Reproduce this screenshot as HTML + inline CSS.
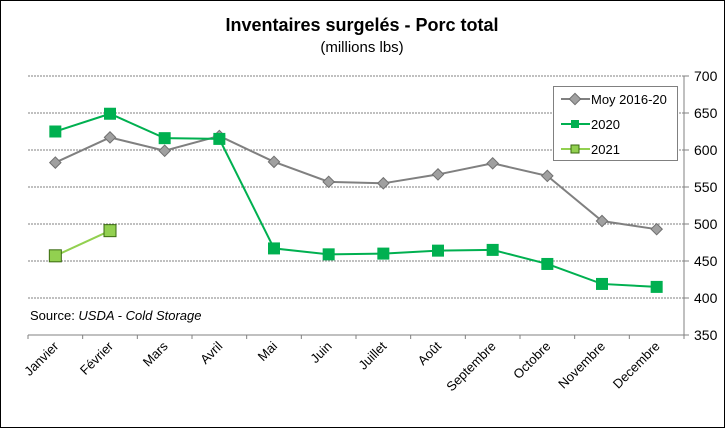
<!DOCTYPE html>
<html><head><meta charset="utf-8"><style>
body{margin:0;background:#fff;font-family:"Liberation Sans",sans-serif}
</style></head><body>
<svg width="725" height="428" xmlns="http://www.w3.org/2000/svg">
<rect x="0.5" y="0.5" width="724" height="427" fill="#fff" stroke="#000"/>
<text x="362" y="31" text-anchor="middle" font-size="18" font-weight="bold">Inventaires surgelés - Porc total</text>
<text x="362" y="52" text-anchor="middle" font-size="15">(millions lbs)</text>
<g id="grid"></g><g id="axis"></g><g id="series"></g>
<text x="30" y="320" font-size="13">Source: <tspan font-style="italic">USDA - Cold Storage</tspan></text>
<g>
<rect x="553.5" y="86.5" width="124" height="74" fill="#fff" stroke="#808080"/>
<line x1="561" x2="590" y1="99" y2="99" stroke="#808080" stroke-width="2"/>
<rect x="571" y="95" width="8" height="8" fill="#a0a0a0" stroke="#707070" transform="rotate(45 575 99)"/>
<text x="591" y="104" font-size="13">Moy 2016-20</text>
<line x1="561" x2="590" y1="124" y2="124" stroke="#00b050" stroke-width="2"/>
<rect x="571" y="120" width="8" height="8" fill="#00b050"/>
<text x="591" y="129" font-size="13">2020</text>
<line x1="561" x2="590" y1="149" y2="149" stroke="#92d050" stroke-width="2"/>
<rect x="571" y="145" width="8" height="8" fill="#92d050" stroke="#3a6a10"/>
<text x="591" y="154" font-size="13">2021</text>
</g>
</svg>
<script>
const categories=["Janvier","Février","Mars","Avril","Mai","Juin","Juillet","Août","Septembre","Octobre","Novembre","Decembre"];
const moy=[583,617,599,619,584,557,555,567,582,565,504,493];
const s2020=[625,649,616,615,467,459,460,464,465,446,419,415];
const s2021=[457,491];
const yTicks=[350,400,450,500,550,600,650,700];
const NS="http://www.w3.org/2000/svg";
const L=28,R=684,T=76,B=335;
const bw=(R-L)/categories.length;
const x=i=>L+bw*(i+0.5);
const y=v=>B-(v-350)/(700-350)*(B-T);
function mk(tag,attrs,parent){const e=document.createElementNS(NS,tag);for(const k in attrs)e.setAttribute(k,attrs[k]);document.getElementById(parent).appendChild(e);return e;}
yTicks.forEach(t=>{
 if(t>350){const g=mk('line',{x1:L,x2:R,y1:y(t),y2:y(t),stroke:'#808080','stroke-dasharray':'2,1'},'grid');
 
 }
 const tk=mk('line',{x1:R,x2:R+5,y1:y(t),y2:y(t),stroke:'#808080'},'axis');
 
 
 const tx=mk('text',{x:R+10,y:y(t)+5,'font-size':14},'axis');tx.textContent=t;
 
 
});
const ax=mk('line',{x1:R,x2:R,y1:T,y2:B,stroke:'#808080'},'axis');


const bx=mk('line',{x1:L,x2:R,y1:B,y2:B,stroke:'#808080'},'axis');


for(let k=0;k<=categories.length;k++){
 const xt=mk('line',{x1:L+bw*k,x2:L+bw*k,y1:B,y2:B+4,stroke:'#808080'},'axis');
 
 
}
categories.forEach((c,i)=>{
 const t=mk('text',{x:x(i)+4,y:B+12,'font-size':13,'text-anchor':'end',transform:`rotate(-45 ${x(i)+4} ${B+12})`},'axis');t.textContent=c;
 
 
});
function series(vals,color,name,marker,fill,stroke){
 const l=mk('polyline',{points:vals.map((v,i)=>x(i)+','+y(v)).join(' '),fill:'none',stroke:color,'stroke-width':2},'series');
 
 
 vals.forEach((v,i)=>{
  let m;
  if(marker==='d'){m=mk('rect',{x:x(i)-4,y:y(v)-4,width:8,height:8,fill:fill,stroke:stroke,transform:`rotate(45 ${x(i)} ${y(v)})`},'series');}
  else{m=mk('rect',{x:x(i)-6,y:y(v)-6,width:12,height:12,fill:fill,stroke:stroke},'series');}
  
  
 });
}
series(moy,'#808080','moy','d','#a0a0a0','#707070');
series(s2020,'#00b050','s2020','s','#00b050','none');
series(s2021,'#92d050','s2021','s','#92d050','#3a6a10');
</script>
</body></html>
